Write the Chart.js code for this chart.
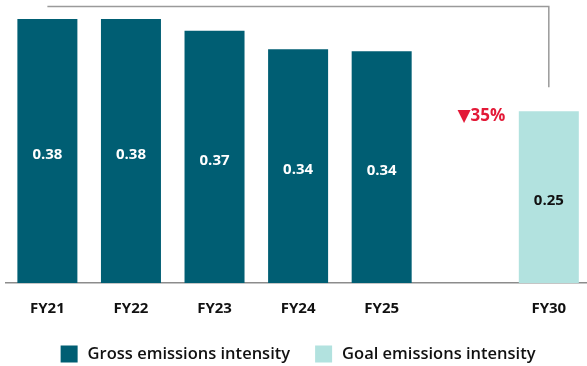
<!DOCTYPE html>
<html>
<head>
<meta charset="utf-8">
<script src="https://cdn.jsdelivr.net/npm/chart.js@4/dist/chart.umd.min.js"></script>
<style>
  html, body { margin: 0; padding: 0; background: #fff; overflow: hidden; }
  #wrap { position: relative; width: 591px; height: 366px; }
</style>
</head>
<body>
<div id="wrap"><canvas id="chart"></canvas></div>
<script>
// Emissions intensity by fiscal year, with the FY30 goal
const categories = ['FY21', 'FY22', 'FY23', 'FY24', 'FY25', '', 'FY30'];
const grossIntensity = [0.384, 0.384, 0.367, 0.340, 0.337, null, null];
const goalIntensity = [null, null, null, null, null, null, 0.25];
const seriesNames = ['Gross emissions intensity', 'Goal emissions intensity'];
const reductionText = '\u25BC35%';

const DARK = '#005e73';
const LIGHT = '#b2e2df';
const FONT = '"Open Sans", "DejaVu Sans", sans-serif';

// White / dark value labels centred inside each bar
const valueLabels = {
  id: 'valueLabels',
  afterDatasetsDraw(chart) {
    const ctx = chart.ctx;
    ctx.save();
    ctx.font = '700 15px ' + FONT;
    ctx.textAlign = 'center';
    ctx.textBaseline = 'middle';
    chart.data.datasets.forEach((ds, di) => {
      const meta = chart.getDatasetMeta(di);
      meta.data.forEach((bar, i) => {
        const v = ds.data[i];
        if (v === null || v === undefined) return;
        ctx.fillStyle = di === 0 ? '#ffffff' : '#111111';
        ctx.fillText(v.toFixed(2), bar.x, (bar.y + bar.base) / 2 + 3.5);
      });
    });
    ctx.restore();
  }
};

// Bracket from the first year to the goal bar, plus the reduction callout
const bracket = {
  id: 'bracket',
  afterDatasetsDraw(chart) {
    const ctx = chart.ctx;
    const x = chart.scales.x, y = chart.scales.y;
    const goalIdx = goalIntensity.findIndex(v => v !== null);
    const goalMeta = chart.getDatasetMeta(1).data[goalIdx];
    const x0 = x.getPixelForValue(0);
    const x1 = x.getPixelForValue(goalIdx);
    const yTop = chart.chartArea.top - 1.5;
    const yEnd = y.getPixelForValue(goalIntensity[goalIdx]) - 24;
    ctx.save();
    ctx.strokeStyle = '#9a9a9a';
    ctx.lineWidth = 1.5;
    ctx.beginPath();
    ctx.moveTo(x0, yTop);
    ctx.lineTo(x1, yTop);
    ctx.lineTo(x1, yEnd);
    ctx.stroke();

    ctx.fillStyle = '#e31937';
    ctx.font = '700 17px ' + FONT;
    ctx.textAlign = 'right';
    ctx.textBaseline = 'middle';
    ctx.fillText(reductionText, goalMeta.x - goalMeta.width / 2 - 13.5, goalMeta.y + 5.5);
    ctx.restore();
  }
};

// Legend row below the axis
const legendRow = {
  id: 'legendRow',
  afterDraw(chart) {
    const ctx = chart.ctx;
    const box = 17, gap = 10, between = 25;
    ctx.save();
    ctx.font = '600 16.5px ' + FONT;
    ctx.textBaseline = 'middle';
    ctx.textAlign = 'left';
    const items = chart.data.datasets.map(ds => ({
      label: ds.label, color: ds.backgroundColor, w: ctx.measureText(ds.label).width
    }));
    const total = items.reduce((s, it) => s + box + gap + it.w, 0) + between * (items.length - 1);
    const ca = chart.chartArea;
    let cx = (ca.left + ca.right) / 2 - total / 2;
    const cy = 354;
    items.forEach(it => {
      ctx.fillStyle = it.color;
      ctx.fillRect(cx, cy - box / 2, box, box);
      ctx.fillStyle = '#111111';
      ctx.fillText(it.label, cx + box + gap, cy);
      cx += box + gap + it.w + between;
    });
    ctx.restore();
  }
};

new Chart(document.getElementById('chart'), {
  type: 'bar',
  data: {
    labels: categories,
    datasets: [
      { label: seriesNames[0], data: grossIntensity, backgroundColor: DARK, grouped: false },
      { label: seriesNames[1], data: goalIntensity, backgroundColor: LIGHT, grouped: false }
    ]
  },
  options: {
    responsive: true,
    maintainAspectRatio: false,
    animation: false,
    devicePixelRatio: 1,
    layout: { padding: { left: 5.6, right: 0.4, top: 8, bottom: 53 } },
    datasets: { bar: { categoryPercentage: 1, barPercentage: 0.718 } },
    plugins: { legend: { display: false }, tooltip: { enabled: false } },
    scales: {
      x: {
        grid: { display: false, drawTicks: false },
        border: { display: true, color: '#8c8c8c', width: 1.5 },
        ticks: { color: '#111111', font: { family: FONT, size: 15, weight: '700' }, padding: 17 },
        afterFit(scale) { scale.height = 30; }
      },
      y: { display: false, min: 0, max: 0.4 }
    }
  },
  plugins: [valueLabels, bracket, legendRow]
});
</script>
</body>
</html>
